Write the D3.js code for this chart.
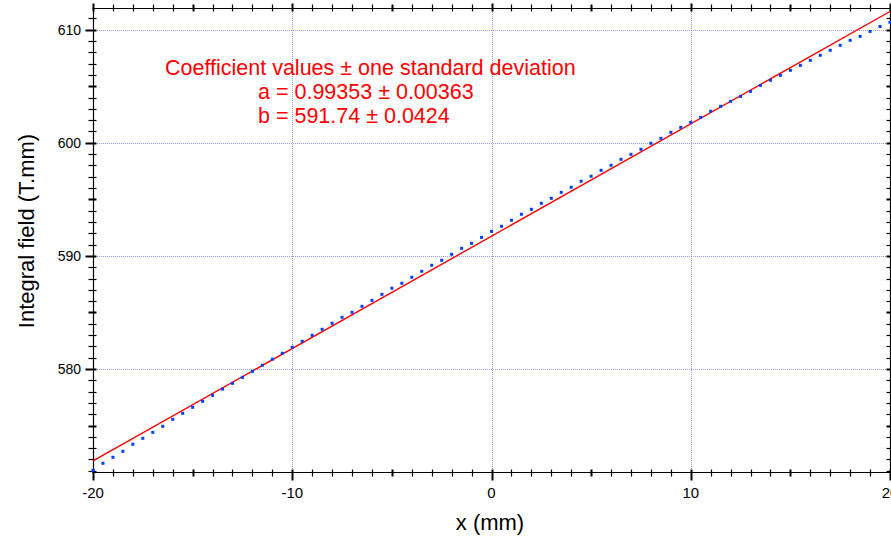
<!DOCTYPE html>
<html>
<head>
<meta charset="utf-8">
<script src="https://cdn.jsdelivr.net/npm/d3@7"></script>
<style>
  body { margin: 0; background: #fff; }
  svg { display: block; font-family: 'Liberation Sans', Arial, sans-serif; }
</style>
</head>
<body>
<div id="chart"></div>
<script>
// measured positions (mm) and integral field (T.mm)
const xPos = [
  -20, -19.5, -19, -18.5, -18, -17.5, -17, -16.5, -16, -15.5, -15, -14.5, -14, -13.5,
  -13, -12.5, -12, -11.5, -11, -10.5, -10, -9.5, -9, -8.5, -8, -7.5, -7,
  -6.5, -6, -5.5, -5, -4.5, -4, -3.5, -3, -2.5, -2, -1.5, -1, -0.5, 0,
  0.5, 1, 1.5, 2, 2.5, 3, 3.5, 4, 4.5, 5, 5.5, 6, 6.5, 7,
  7.5, 8, 8.5, 9, 9.5, 10, 10.5, 11, 11.5, 12, 12.5, 13, 13.5,
  14, 14.5, 15, 15.5, 16, 16.5, 17, 17.5, 18, 18.5, 19, 19.5, 20
]
const fieldVals = [
  571.04, 571.66, 572.19, 572.72, 573.34, 573.87, 574.40, 574.93, 575.55, 576.08, 576.61, 577.14, 577.67, 578.22,
  578.73, 579.26, 579.79, 580.33, 580.86, 581.39, 581.92, 582.45, 582.98, 583.51, 584.04, 584.57, 585.01,
  585.54, 586.07, 586.60, 587.14, 587.58, 588.11, 588.64, 589.17, 589.61, 590.14, 590.67, 591.11, 591.64, 592.17,
  592.62, 593.15, 593.68, 594.12, 594.65, 595.09, 595.62, 596.07, 596.60, 597.04, 597.57, 598.01, 598.54, 598.98,
  599.43, 599.96, 600.40, 600.93, 601.37, 601.81, 602.25, 602.79, 603.23, 603.67, 604.11, 604.55, 605.08,
  605.53, 605.97, 606.41, 606.85, 607.29, 607.74, 608.18, 608.62, 609.06, 609.41, 609.85, 610.29, 610.65
]

// linear fit y = a*x + b
const fitA = 0.99353
const fitB = 591.74

const xTicks = [-20, -10, 0, 10, 20]
const yTicks = [580, 590, 600, 610]
const xMid = [-15, -5, 5, 15]
const yMid = [575, 585, 595, 605]

const annotation = [
  'Coefficient values \u00b1 one standard deviation',
  'a = 0.99353 \u00b1 0.00363',
  'b = 591.74 \u00b1 0.0424',
]

const W = 891, H = 536
const plot = { left: 93, right: 890, top: 8, bottom: 472 }

const svg = d3.select('#chart').append('svg').attr('width', W).attr('height', H)

const x = d3.scaleLinear().domain([-20, 20]).range([plot.left, plot.right])
const y = d3.scaleLinear().domain([570.89, 611.92]).range([plot.bottom, plot.top])

const px = (v) => Math.round(x(v)) + 0.5
const py = (v) => Math.round(y(v)) + 0.5

// grid
const grid = svg.append('g').attr('stroke', '#9a9af0').attr('stroke-width', 1).attr('stroke-dasharray', '1,1')
grid.selectAll('.gx').data(xTicks).join('line')
  .attr('x1', px).attr('x2', px).attr('y1', plot.top).attr('y2', plot.bottom)
grid.selectAll('.gy').data(yTicks).join('line')
  .attr('y1', py).attr('y2', py).attr('x1', plot.left).attr('x2', plot.right)

// axes: minor every 1, thicker at 5s, long at 10s
const minorX = d3.range(-20, 21, 1)
const minorY = d3.range(571, 612, 1)
const ax = svg.append('g').attr('stroke', '#000').attr('stroke-width', 1.2)

const bx = Math.round(plot.bottom) + 0.5, tx = Math.round(plot.top) + 0.5
const lx = Math.round(plot.left) + 0.5, rx = Math.round(plot.right) + 0.5

ax.append('line').attr('x1', lx - 1).attr('x2', rx).attr('y1', bx).attr('y2', bx)
ax.append('line').attr('x1', lx - 1).attr('x2', rx).attr('y1', tx).attr('y2', tx)
ax.append('line').attr('x1', lx).attr('x2', lx).attr('y1', tx - 1).attr('y2', bx + 1)
ax.append('line').attr('x1', rx).attr('x2', rx).attr('y1', tx - 1).attr('y2', bx + 1)

const tickW = (v, mids, majors) => (majors.includes(v) || mids.includes(v) ? 2 : 1.2)

// bottom + top ticks
ax.selectAll('.tb').data(minorX).join('line')
  .attr('x1', px).attr('x2', px)
  .attr('y1', bx - 3).attr('y2', (d) => (xTicks.includes(d) ? bx + 8 : bx + 4))
  .attr('stroke-width', (d) => tickW(d, xMid, xTicks))
ax.selectAll('.tt').data(minorX).join('line')
  .attr('x1', px).attr('x2', px)
  .attr('y1', (d) => (xTicks.includes(d) ? tx - 5 : tx - 4)).attr('y2', tx + 3)
  .attr('stroke-width', (d) => tickW(d, xMid, xTicks))

// left + right ticks
ax.selectAll('.tl').data(minorY).join('line')
  .attr('y1', py).attr('y2', py)
  .attr('x1', (d) => (yTicks.includes(d) ? lx - 8 : lx - 5)).attr('x2', lx + 3)
  .attr('stroke-width', (d) => tickW(d, yMid, yTicks))
ax.selectAll('.tr').data(minorY).join('line')
  .attr('y1', py).attr('y2', py)
  .attr('x1', rx - 4).attr('x2', rx + 4)
  .attr('stroke-width', (d) => tickW(d, yMid, yTicks))

// tick labels
svg.append('g').selectAll('text').data(xTicks).join('text')
  .attr('x', (d) => x(d)).attr('y', plot.bottom + 26)
  .attr('text-anchor', 'middle').attr('font-size', 15)
  .text((d) => d)
svg.append('g').selectAll('text').data(yTicks).join('text')
  .attr('x', plot.left - 12).attr('y', (d) => y(d) + 5)
  .attr('text-anchor', 'end').attr('font-size', 14)
  .text((d) => d)

// axis titles
svg.append('text').attr('x', 490).attr('y', 530).attr('text-anchor', 'middle')
  .attr('font-size', 22).text('x (mm)')
svg.append('text').attr('transform', 'translate(34,231) rotate(-90)').attr('text-anchor', 'middle')
  .attr('font-size', 22).text('Integral field (T.mm)')

// fit line
svg.append('line')
  .attr('x1', x(-20)).attr('y1', y(fitA * -20 + fitB))
  .attr('x2', x(20)).attr('y2', y(fitA * 20 + fitB))
  .attr('stroke', '#ff0000').attr('stroke-width', 1.4)

// data points
svg.append('g').selectAll('rect').data(fieldVals).join('rect')
  .attr('x', (d, i) => x(xPos[i]) - 1.5).attr('y', (d) => y(d) - 1.5)
  .attr('width', 3).attr('height', 3)
  .attr('fill', '#0040ff')

// annotation
const note = svg.append('g').attr('fill', '#ff0000').attr('font-size', 21.5)
note.append('text').attr('x', 165).attr('y', 75).text(annotation[0])
note.append('text').attr('x', 258).attr('y', 99).text(annotation[1])
note.append('text').attr('x', 258).attr('y', 123).text(annotation[2])
</script>
</body>
</html>
